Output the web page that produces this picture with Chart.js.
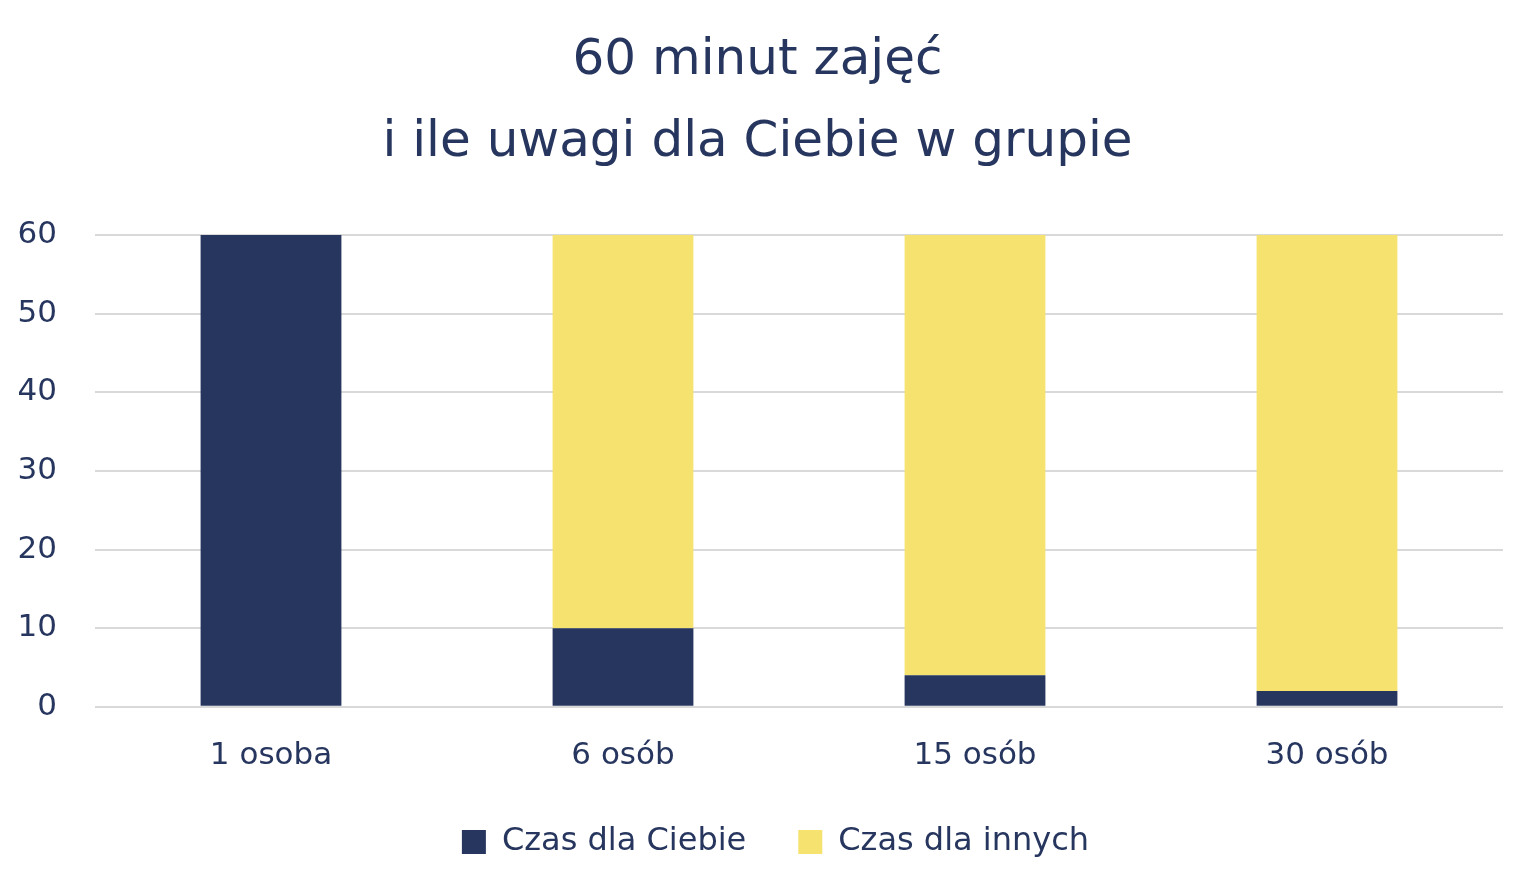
<!DOCTYPE html>
<html lang="pl">
<head>
<meta charset="utf-8">
<script src="https://cdn.jsdelivr.net/npm/chart.js@4/dist/chart.umd.min.js"></script>
<style>
  html, body { margin: 0; padding: 0; background: #ffffff; }
  #wrap { width: 1536px; height: 894px; }
</style>
</head>
<body>
<div id="wrap"><canvas id="chart" width="1536" height="894"></canvas></div>
<script>
// Chart data
const categories = ['1 osoba', '6 osób', '15 osób', '30 osób'];
const timeForYou = [60, 10, 4, 2];
const timeForOthers = [0, 50, 56, 58];
const yTicks = [0, 10, 20, 30, 40, 50, 60];
const titleLines = ['60 minut zajęć', 'i ile uwagi dla Ciebie w grupie'];

const navy = '#27365e';
const yellow = '#f5e26f';
const fontFamily = '"DejaVu Sans", "Open Sans", sans-serif';

// Legend sits a bit right of the canvas centre in the original
const legendShift = {
    id: 'legendShift',
    afterLayout(chart) {
        const lg = chart.legend;
        if (!lg) return;
        lg.left += 18;
        lg.right += 18;
    }
};

new Chart(document.getElementById('chart'), {
    type: 'bar',
    data: {
        labels: categories,
        datasets: [
            {
                label: 'Czas dla Ciebie',
                data: timeForYou,
                backgroundColor: navy,
                categoryPercentage: 1,
                barPercentage: 0.4
            },
            {
                label: 'Czas dla innych',
                data: timeForOthers,
                backgroundColor: yellow,
                categoryPercentage: 1,
                barPercentage: 0.4
            }
        ]
    },
    plugins: [legendShift],
    options: {
        responsive: false,
        animation: false,
        layout: { padding: { left: 12, right: 33, top: 20, bottom: 26 } },
        plugins: {
            title: {
                display: true,
                text: titleLines,
                color: navy,
                font: { family: fontFamily, size: 50, weight: 'normal', lineHeight: 1.64 },
                padding: { top: 0, bottom: 51 }
            },
            legend: {
                position: 'bottom',
                labels: {
                    color: navy,
                    font: { family: fontFamily, size: 32 },
                    boxWidth: 24,
                    boxHeight: 24,
                    padding: 52
                }
            },
            tooltip: { enabled: false }
        },
        scales: {
            x: {
                stacked: true,
                afterFit: axis => { axis.height -= 32; },
                grid: { display: false, drawTicks: false },
                border: { display: false },
                ticks: {
                    color: navy,
                    font: { family: fontFamily, size: 31 },
                    padding: 31
                }
            },
            y: {
                stacked: true,
                min: 0,
                max: 60,
                afterBuildTicks: axis => { axis.ticks = yTicks.map(v => ({ value: v })); },
                afterFit: axis => { axis.width = 83; },
                grid: { color: '#d9d9d9', lineWidth: 2, drawTicks: false },
                border: { display: false },
                ticks: {
                    color: navy,
                    font: { family: fontFamily, size: 31 },
                    padding: 38
                }
            }
        }
    }
});
</script>
</body>
</html>
